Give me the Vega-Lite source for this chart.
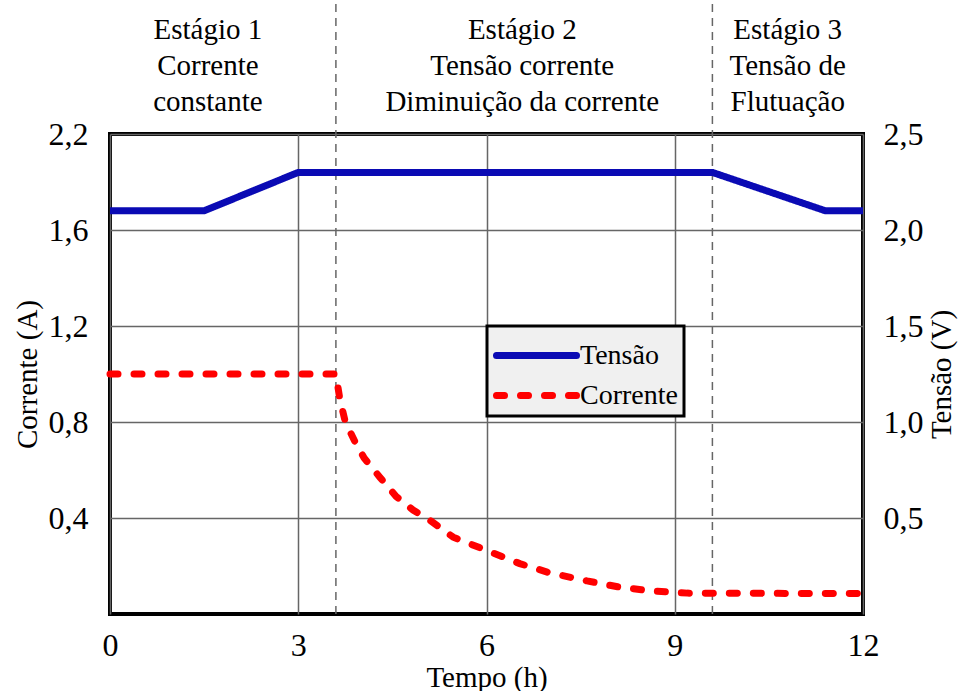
{
  "$schema": "https://vega.github.io/schema/vega-lite/v6.json",
  "width": 753,
  "height": 480,
  "autosize": {"type": "none"},
  "padding": {"left": 110, "top": 134, "right": 101, "bottom": 77},
  "background": "white",
  "config": {
    "font": "Liberation Serif",
    "view": {"stroke": "black", "strokeWidth": 4},
    "axis": {
      "domain": false,
      "ticks": false,
      "labelFont": "Liberation Serif",
      "labelFontSize": 32,
      "labelColor": "black",
      "titleFont": "Liberation Serif",
      "titleFontSize": 29,
      "titleFontWeight": "normal",
      "titleColor": "black",
      "gridColor": "#666666",
      "gridWidth": 1.5,
      "gridOpacity": 1,
      "labelFlush": false,
      "labelOverlap": false
    },
    "legend": {
      "orient": "none",
      "legendX": 377,
      "legendY": 192,
      "fillColor": "#f0f0f0",
      "strokeColor": "black",
      "padding": 6,
      "symbolType": "M-1,0H3",
      "symbolSize": 1600,
      "symbolStrokeWidth": 7,
      "labelFontSize": 28,
      "labelFont": "Liberation Serif",
      "labelColor": "black",
      "rowPadding": 2,
      "labelOffset": 40
    }
  },
  "datasets": {
    "tensao": [
      {"t": 0, "v": 2.1, "serie": "Tensão"},
      {"t": 1.5, "v": 2.1, "serie": "Tensão"},
      {"t": 3, "v": 2.3, "serie": "Tensão"},
      {"t": 9.6, "v": 2.3, "serie": "Tensão"},
      {"t": 11.4, "v": 2.1, "serie": "Tensão"},
      {"t": 12, "v": 2.1, "serie": "Tensão"}
    ],
    "corrente": [
      {"t": 0, "i": 1.0, "serie": "Corrente"},
      {"t": 3.6, "i": 1.0, "serie": "Corrente"},
      {"t": 3.66, "i": 0.9, "serie": "Corrente"},
      {"t": 3.75, "i": 0.8, "serie": "Corrente"},
      {"t": 3.9, "i": 0.72, "serie": "Corrente"},
      {"t": 4.05, "i": 0.65, "serie": "Corrente"},
      {"t": 4.3, "i": 0.57, "serie": "Corrente"},
      {"t": 4.56, "i": 0.49, "serie": "Corrente"},
      {"t": 4.83, "i": 0.433, "serie": "Corrente"},
      {"t": 5.1, "i": 0.39, "serie": "Corrente"},
      {"t": 5.47, "i": 0.32, "serie": "Corrente"},
      {"t": 6.0, "i": 0.265, "serie": "Corrente"},
      {"t": 6.53, "i": 0.21, "serie": "Corrente"},
      {"t": 7.0, "i": 0.172, "serie": "Corrente"},
      {"t": 7.6, "i": 0.138, "serie": "Corrente"},
      {"t": 8.1, "i": 0.113, "serie": "Corrente"},
      {"t": 8.6, "i": 0.097, "serie": "Corrente"},
      {"t": 9.2, "i": 0.087, "serie": "Corrente"},
      {"t": 12, "i": 0.085, "serie": "Corrente"}
    ],
    "estagios": [
      {"t": 1.56, "y": 2.433, "label": "Estágio 1\nCorrente\nconstante"},
      {"t": 6.57, "y": 2.433, "label": "Estágio 2\nTensão corrente\nDiminuição da corrente"},
      {"t": 10.8, "y": 2.433, "label": "Estágio 3\nTensão de\nFlutuação"}
    ],
    "marcos": [
      {"t": 3.6, "y0": 0, "y1": 2.56},
      {"t": 9.6, "y0": 0, "y1": 2.56}
    ]
  },
  "layer": [
    {
      "layer": [
        {
          "data": {"name": "estagios"},
          "mark": {"type": "text", "lineBreak": "\n", "fontSize": 29, "lineHeight": 36, "baseline": "middle", "align": "center", "color": "black", "font": "Liberation Serif"},
          "encoding": {
            "x": {"field": "t", "type": "quantitative", "scale": {"domain": [0, 12], "nice": false, "zero": false},
              "axis": {"values": [0, 3, 6, 9, 12], "labelPadding": 16, "title": "Tempo (h)", "titlePadding": 2, "grid": true}},
            "y": {"field": "y", "type": "quantitative", "scale": {"domain": [0, 2], "nice": false},
              "axis": {"values": [0.4, 0.8, 1.2, 1.6, 2.0], "orient": "left", "labelPadding": 22, "title": "Corrente (A)", "titlePadding": 6, "grid": true,
                "labelExpr": "datum.value == 2 ? '2,2' : replace(format(datum.value, '.1f'), '.', ',')"}},
            "text": {"field": "label", "type": "nominal"}
          }
        },
        {
          "data": {"name": "marcos"},
          "mark": {"type": "rule", "color": "#666666", "strokeWidth": 1.5, "strokeDash": [8, 6]},
          "encoding": {
            "x": {"field": "t", "type": "quantitative", "scale": {"domain": [0, 12], "nice": false, "zero": false},
              "axis": {"values": [0, 3, 6, 9, 12], "labelPadding": 16, "title": "Tempo (h)", "titlePadding": 2, "grid": true}},
            "y": {"field": "y0", "type": "quantitative", "scale": {"domain": [0, 2], "nice": false},
              "axis": {"values": [0.4, 0.8, 1.2, 1.6, 2.0], "orient": "left", "labelPadding": 22, "title": "Corrente (A)", "titlePadding": 6, "grid": true,
                "labelExpr": "datum.value == 2 ? '2,2' : replace(format(datum.value, '.1f'), '.', ',')"}},
            "y2": {"field": "y1"}
          }
        },
        {
          "data": {"name": "corrente"},
          "mark": {"type": "line", "strokeWidth": 7, "strokeCap": "round"},
          "encoding": {
            "x": {"field": "t", "type": "quantitative", "scale": {"domain": [0, 12], "nice": false, "zero": false},
              "axis": {"values": [0, 3, 6, 9, 12], "labelPadding": 16, "title": "Tempo (h)", "titlePadding": 2, "grid": true}},
            "y": {"field": "i", "type": "quantitative", "scale": {"domain": [0, 2], "nice": false},
              "axis": {"values": [0.4, 0.8, 1.2, 1.6, 2.0], "orient": "left", "labelPadding": 22, "title": "Corrente (A)", "titlePadding": 6, "grid": true,
                "labelExpr": "datum.value == 2 ? '2,2' : replace(format(datum.value, '.1f'), '.', ',')"}},
            "color": {"field": "serie", "type": "nominal", "scale": {"domain": ["Tensão", "Corrente"], "range": ["#0a0ab4", "#ff0000"]},
              "legend": {"title": null, "encode": {"legend": {"update": {"strokeWidth": {"value": 3}}}, "symbols": {"update": {"strokeCap": {"value": "round"}}}}}},
            "strokeDash": {"field": "serie", "type": "nominal", "scale": {"domain": ["Tensão", "Corrente"], "range": [[1, 0], [8, 16]]},
              "legend": {"title": null, "encode": {"legend": {"update": {"strokeWidth": {"value": 3}}}, "symbols": {"update": {"strokeCap": {"value": "round"}}}}}}
          }
        }
      ]
    },
    {
      "data": {"name": "tensao"},
      "mark": {"type": "line", "strokeWidth": 7},
      "encoding": {
        "x": {"field": "t", "type": "quantitative", "scale": {"domain": [0, 12], "nice": false, "zero": false},
          "axis": {"values": [0, 3, 6, 9, 12], "labelPadding": 16, "title": "Tempo (h)", "titlePadding": 2, "grid": true}},
        "y": {"field": "v", "type": "quantitative", "scale": {"domain": [0, 2.5], "nice": false},
          "axis": {"values": [0.5, 1.0, 1.5, 2.0, 2.5], "orient": "right", "labelPadding": 20, "labelAlign": "left", "grid": false,
            "title": "Tensão (V)", "titleAngle": 270, "titleBaseline": "top", "titlePadding": 4,
            "labelExpr": "replace(format(datum.value, '.1f'), '.', ',')"}},
        "color": {"field": "serie", "type": "nominal", "scale": {"domain": ["Tensão", "Corrente"], "range": ["#0a0ab4", "#ff0000"]},
          "legend": {"title": null, "encode": {"legend": {"update": {"strokeWidth": {"value": 3}}}, "symbols": {"update": {"strokeCap": {"value": "round"}}}}}},
        "strokeDash": {"field": "serie", "type": "nominal", "scale": {"domain": ["Tensão", "Corrente"], "range": [[1, 0], [8, 16]]},
          "legend": {"title": null, "encode": {"legend": {"update": {"strokeWidth": {"value": 3}}}, "symbols": {"update": {"strokeCap": {"value": "round"}}}}}}
      }
    }
  ],
  "resolve": {"scale": {"y": "independent"}}
}
